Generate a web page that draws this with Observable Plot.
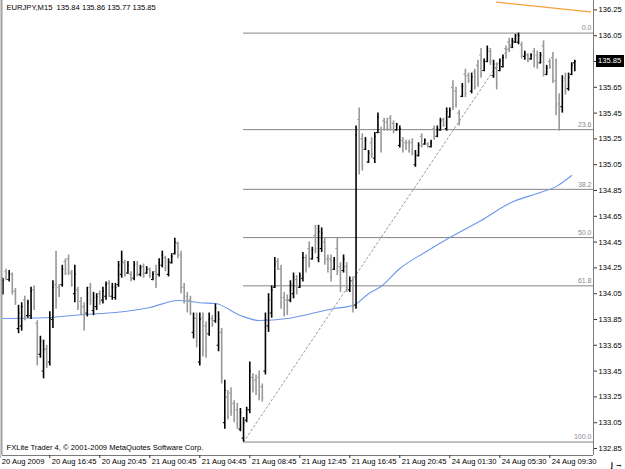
<!DOCTYPE html>
<html><head><meta charset="utf-8">
<script src="https://cdn.jsdelivr.net/npm/d3@7"></script>
<script src="https://cdn.jsdelivr.net/npm/@observablehq/plot@0.6"></script>
<style>body{margin:0;background:#fff}svg{display:block}</style>
</head><body><div id="chart"></div>
<script>
// ---- data (EURJPY M15 bars) ----
const symbolTitle = "EURJPY,M15\u00a0\u00a0135.84 135.86 135.77 135.85";
const footer = "FXLite Trader 4, \u00a9 2001-2009 MetaQuotes Software Corp.";
const open = [134.06,134.22,134.16,134.20,134.07,133.78,133.80,134.00,133.88,133.88,134.08,133.82,133.58,133.45,133.62,133.52,
133.85,134.12,134.10,134.12,134.30,134.32,134.21,134.05,134.08,133.99,133.95,133.90,134.10,133.92,133.95,134.05,
134.00,134.03,134.13,134.03,134.02,134.12,134.20,134.29,134.21,134.20,134.17,134.28,134.20,134.26,134.21,134.24,
134.16,134.22,134.20,134.27,134.33,134.20,134.29,134.36,134.44,134.35,134.10,134.03,134.00,133.75,133.86,133.52,
133.86,133.80,133.74,133.86,133.84,133.65,133.75,133.05,133.25,133.28,133.20,133.15,133.00,132.93,133.07,133.15,
133.40,133.38,133.40,133.33,133.45,133.80,133.90,134.10,134.30,134.24,134.02,134.00,134.00,134.05,134.16,134.10,
134.17,134.33,134.40,134.32,134.50,134.33,134.40,134.45,134.32,134.32,134.24,134.40,134.26,134.23,134.26,134.08,
134.15,133.96,135.40,135.25,135.17,135.07,135.22,135.10,135.30,135.30,135.39,135.38,135.41,135.37,135.32,135.20,
135.24,135.22,135.22,135.22,135.05,135.12,135.27,135.21,135.21,135.19,135.33,135.27,135.32,135.40,135.33,135.42,
135.65,135.62,135.45,135.58,135.75,135.74,135.62,135.77,135.82,135.90,135.78,135.85,135.93,135.74,135.80,135.78,
135.81,135.95,136.00,135.96,136.00,136.00,135.98,135.89,135.90,135.87,135.93,135.90,135.84,135.97,135.75,135.85,
135.88,135.70,135.52,135.50,135.72,135.64,135.75,135.84];
const high = [134.17,134.24,134.23,134.21,134.09,133.96,133.98,134.03,134.00,134.10,134.11,133.84,133.72,133.69,133.65,133.91,
134.15,134.38,134.12,134.27,134.32,134.35,134.23,134.27,134.10,134.02,133.98,134.10,134.13,134.06,134.05,134.07,
134.10,134.14,134.15,134.13,134.13,134.30,134.38,134.31,134.30,134.22,134.30,134.30,134.27,134.28,134.26,134.25,
134.22,134.27,134.32,134.38,134.34,134.32,134.36,134.48,134.45,134.38,134.13,134.06,134.03,133.90,133.90,133.90,
133.90,133.83,133.90,133.88,133.97,133.91,133.78,133.38,133.30,133.32,133.22,133.20,133.16,133.09,133.17,133.52,
133.43,133.42,133.45,133.35,133.90,134.05,134.11,134.33,134.32,134.27,134.06,134.04,134.15,134.21,134.19,134.21,
134.37,134.35,134.45,134.41,134.58,134.58,134.56,134.48,134.35,134.35,134.33,134.48,134.29,134.35,134.29,134.18,
134.18,135.35,135.49,135.29,135.26,135.16,135.26,135.30,135.45,135.34,135.41,135.41,135.43,135.39,135.37,135.35,
135.26,135.24,135.24,135.25,135.16,135.22,135.29,135.25,135.22,135.24,135.35,135.35,135.41,135.41,135.49,135.49,
135.70,135.65,135.47,135.68,135.79,135.76,135.76,135.79,135.86,135.95,135.87,135.97,135.95,135.86,135.84,135.87,
135.90,135.97,136.03,136.03,136.06,136.07,136.00,135.93,135.91,135.91,135.95,135.93,135.92,136.01,135.82,135.87,
135.92,135.87,135.60,135.74,135.76,135.76,135.84,135.86];
const low = [134.04,134.15,134.14,134.04,133.96,133.74,133.76,133.84,133.86,133.85,133.92,133.49,133.55,133.39,133.47,133.49,
133.78,133.93,134.02,134.10,134.19,134.19,134.10,133.98,133.92,133.88,133.76,133.87,133.96,133.88,133.92,133.96,
133.97,134.00,134.02,134.00,134.00,134.10,134.17,134.18,134.20,134.14,134.15,134.18,134.18,134.17,134.20,134.17,
134.15,134.09,134.18,134.25,134.22,134.18,134.28,134.35,134.32,134.05,133.97,133.90,133.88,133.70,133.63,133.49,
133.56,133.55,133.72,133.79,133.82,133.60,133.35,133.00,133.07,133.10,133.05,133.00,132.98,132.90,133.05,133.12,
133.28,133.26,133.22,133.21,133.42,133.75,133.86,134.09,134.23,133.93,133.87,133.88,133.98,134.01,134.04,134.09,
134.14,134.21,134.25,134.31,134.36,134.29,134.37,134.27,134.21,134.14,134.23,134.19,134.06,134.21,134.06,134.06,
133.90,133.93,134.97,135.00,135.16,135.06,135.10,135.06,135.29,135.14,135.31,135.31,135.31,135.29,135.31,135.18,
135.14,135.16,135.14,135.12,135.03,135.11,135.18,135.20,135.18,135.18,135.24,135.26,135.31,135.34,135.31,135.41,
135.47,135.49,135.35,135.57,135.57,135.68,135.60,135.63,135.65,135.72,135.77,135.84,135.82,135.72,135.63,135.77,
135.80,135.87,135.92,135.95,135.99,135.98,135.87,135.86,135.84,135.86,135.80,135.79,135.83,135.73,135.74,135.79,
135.68,135.43,135.31,135.45,135.59,135.62,135.74,135.77];
const close = [134.15,134.17,134.21,134.07,133.98,133.90,133.95,133.87,133.98,134.07,133.95,133.56,133.68,133.62,133.50,133.86,
134.10,134.00,134.04,134.24,134.21,134.22,134.12,134.20,133.95,133.90,133.80,134.05,134.00,134.02,134.03,133.99,
134.07,134.12,134.05,134.10,134.10,134.27,134.30,134.20,134.27,134.16,134.27,134.20,134.25,134.19,134.24,134.19,
134.20,134.12,134.29,134.35,134.25,134.30,134.34,134.45,134.35,134.10,134.00,133.92,133.90,133.86,133.68,133.85,
133.62,133.60,133.85,133.81,133.94,133.85,133.40,133.30,133.10,133.14,133.08,133.03,133.13,133.05,133.15,133.45,
133.32,133.30,133.26,133.24,133.85,134.00,134.08,134.28,134.25,133.98,133.90,133.92,134.12,134.18,134.07,134.19,
134.33,134.24,134.28,134.39,134.40,134.53,134.52,134.30,134.25,134.18,134.31,134.22,134.10,134.32,134.09,134.15,
133.95,135.28,135.05,135.04,135.24,135.14,135.13,135.27,135.42,135.18,135.33,135.33,135.34,135.31,135.36,135.33,
135.16,135.18,135.15,135.14,135.13,135.20,135.20,135.24,135.19,135.22,135.26,135.33,135.39,135.36,135.46,135.47,
135.50,135.52,135.38,135.66,135.60,135.70,135.73,135.66,135.68,135.75,135.85,135.95,135.85,135.83,135.67,135.85,
135.88,135.88,135.94,136.01,136.05,136.05,135.90,135.91,135.86,135.90,135.83,135.82,135.90,135.77,135.80,135.81,
135.72,135.50,135.38,135.70,135.62,135.73,135.82,135.85];
// moving average (blue), sampled at bar numbers
const maBar = [1,16,27,37,48,57,61,64,69,77,83,92,97,107,113,118,122,128,136,144,154,163,173,178,183];
const maVal = [133.858,133.866,133.889,133.904,133.943,133.997,133.99,133.98,133.974,133.881,133.842,133.858,133.881,133.935,133.958,134.05,134.106,134.245,134.37,134.486,134.617,134.75,134.835,134.88,134.966];
// orange trend line
const trendBar = [159, 189];
const trendVal = [136.31, 136.235];
// fibonacci levels
const fibRatios = [0, 0.236, 0.382, 0.5, 0.618, 1];
const fibLabels = ["0.0", "23.6", "38.2", "50.0", "61.8", "100.0"];
// axes
const xTickBars = [0,16,32,48,64,80,96,112,128,144,160,176];
const xTickLabels = ["20 Aug 2009","20 Aug 16:45","20 Aug 20:45","21 Aug 00:45","21 Aug 04:45","21 Aug 08:45","21 Aug 12:45","21 Aug 16:45","21 Aug 20:45","24 Aug 01:30","24 Aug 05:30","24 Aug 09:30"];
const yTicks = [132.85,133.05,133.25,133.45,133.65,133.85,134.05,134.25,134.45,134.65,134.85,135.05,135.25,135.45,135.65,135.85,136.05,136.25];

// ---- build ----
const bars = open.map((o, k) => ({j: k + 1, o, h: high[k], l: low[k], c: close[k]}));
const ma = maBar.map((j, k) => ({j, v: maVal[k]}));
const trend = trendBar.map((j, k) => ({j, v: trendVal[k]}));
const iLo = d3.minIndex(low), iHi = d3.maxIndex(high);
const fLo = low[iLo], fHi = high[iHi], jLo = iLo + 1, jHi = iHi + 1;
const fib = fibRatios.map((r, k) => ({v: fHi - r * (fHi - fLo), label: fibLabels[k]}));
const xDom = [0.864, 189.984];
const xLab = new Map(xTickBars.map((b, k) => [b, xTickLabels[k]]));
const last = close[close.length - 1];
const yTickText = yTicks.filter(t => Math.abs(t - last) > 0.05);
const col = d => d.c >= d.o ? "#000000" : "#999999";
const font = "'Liberation Sans', Arial, sans-serif";

const chart = Plot.plot({
  width: 625, height: 469,
  marginLeft: 2, marginRight: 32, marginTop: 0, marginBottom: 14,
  x: {domain: xDom, axis: null},
  y: {domain: [132.7957, 136.3229], axis: null},
  color: {type: "identity"},
  style: {background: "#fff", fontFamily: font, fontSize: "7.6px", color: "#000"},
  marks: [
    Plot.ruleY(fib, {y: "v", x1: jLo, x2: xDom[1], stroke: "#858585", strokeWidth: 1}),
    Plot.text(fib, {y: "v", x: xDom[1], text: "label", textAnchor: "end", dx: -2, dy: -5, fill: "#8a8a8a", fontSize: 7}),
    Plot.line([{j: jLo, v: fLo}, {j: jHi, v: fHi}], {x: "j", y: "v", stroke: "#9a9a9a", strokeDasharray: "2,2.5", strokeWidth: 1}),
    Plot.line(ma, {x: "j", y: "v", stroke: "#6d98ea", strokeWidth: 1.1, curve: "monotone-x"}),
    Plot.line(trend, {x: "j", y: "v", stroke: "#f5a23c", strokeWidth: 1.3, clip: true}),
    Plot.ruleX(bars, {x: "j", y1: "l", y2: "h", stroke: col, strokeWidth: 1.6}),
    Plot.ruleY(bars, {y: "o", x1: d => d.j - 0.45, x2: "j", stroke: col, strokeWidth: 1.1}),
    Plot.ruleY(bars, {y: "c", x1: "j", x2: d => d.j + 0.45, stroke: col, strokeWidth: 1.1}),
    Plot.ruleX([xDom[1]], {stroke: "#7a7a7a", strokeWidth: 1}),
    Plot.ruleX([xDom[0]], {stroke: "#a0a0a0", strokeWidth: 2, dx: -1}),
    Plot.ruleY([132.7957], {stroke: "#7a7a7a", strokeWidth: 1}),
    Plot.axisY({anchor: "right", ticks: yTicks, tickFormat: () => "", tickSize: 3, stroke: "#333"}),
    Plot.axisY({anchor: "right", ticks: yTickText, tickFormat: d3.format(".2f"), tickSize: 0, tickPadding: 5}),
    Plot.axisX({anchor: "bottom", ticks: xTickBars, tickFormat: () => "", tickSize: 3, stroke: "#333"}),
    Plot.axisX({anchor: "bottom", ticks: xTickBars, tickFormat: d => xLab.get(d), textAnchor: "start", dx: 2, tickSize: 0, tickPadding: 3}),
    Plot.text([symbolTitle], {frameAnchor: "top-left", dx: 4, dy: 7, lineAnchor: "middle", fontSize: 7.6}),
    Plot.text([footer], {frameAnchor: "bottom-left", dx: 4, dy: -8, lineAnchor: "middle", fontSize: 7.6})
  ]
});
document.getElementById("chart").appendChild(chart);

// current price marker on the price axis
const yy = chart.scale("y").apply(last);
const svg = d3.select(chart);
svg.append("rect").attr("x", 596).attr("y", yy - 6).attr("width", 28).attr("height", 12).attr("fill", "#000");
svg.append("text").attr("x", 598).attr("y", yy).attr("dy", "0.32em").attr("fill", "#fff")
  .attr("text-anchor", "start").attr("font-family", font).attr("font-size", "7.6px").text(d3.format(".2f")(last));
</script></body></html>
